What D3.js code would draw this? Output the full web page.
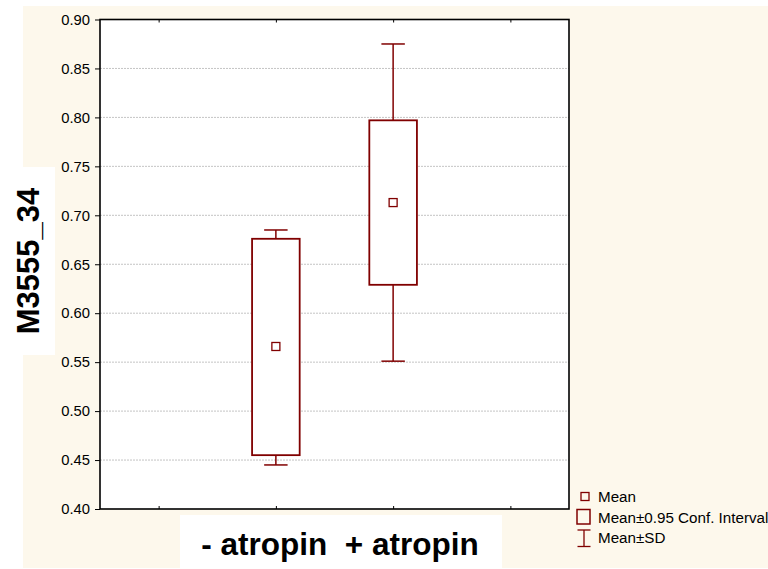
<!DOCTYPE html>
<html>
<head>
<meta charset="utf-8">
<script src="https://cdn.jsdelivr.net/npm/d3@7"></script>
<style>
  body { margin: 0; background: #ffffff; }
  svg { display: block; font-family: Arial, "Liberation Sans", sans-serif; }
</style>
</head>
<body>
<div id="chart"></div>
<script>
// values
const groups = ["- atropin", "+ atropin"];
const groupPos = [1, 2];
const means = [0.566, 0.713];
const ciLow = [0.455, 0.629];
const ciHigh = [0.676, 0.797];
const sdLow = [0.445, 0.551];
const sdHigh = [0.685, 0.875];
const yTicks = [0.40, 0.45, 0.50, 0.55, 0.60, 0.65, 0.70, 0.75, 0.80, 0.85, 0.90];
const xTicks = [0, 1, 2, 3];
const legendItems = ["Mean", "Mean\u00b10.95 Conf. Interval", "Mean\u00b1SD"];

const W = 768, H = 569;
const plot = { left: 100, right: 569, top: 19.5, bottom: 509 };
const red = "#800000";

const svg = d3.select("#chart").append("svg")
    .attr("width", W)
    .attr("height", H);

// page panels
svg.append("rect").attr("x", 23).attr("y", 6).attr("width", W - 23).attr("height", 562).attr("fill", "#fdf8ec");
svg.append("rect").attr("x", 0).attr("y", 167).attr("width", 55).attr("height", 188).attr("fill", "#ffffff");
svg.append("rect").attr("x", 180).attr("y", 515).attr("width", 322).attr("height", 53).attr("fill", "#ffffff");
svg.append("rect")
    .attr("x", plot.left).attr("y", plot.top)
    .attr("width", plot.right - plot.left).attr("height", plot.bottom - plot.top)
    .attr("fill", "#ffffff");

const x = d3.scaleLinear().domain([-0.5, 3.5]).range([plot.left, plot.right]);
const y = d3.scaleLinear().domain([0.40, 0.90]).range([plot.bottom, plot.top]);

// grid
svg.append("g")
    .selectAll("line")
    .data(yTicks.slice(1, -1))
    .enter()
    .append("line")
    .attr("x1", plot.left).attr("x2", plot.right)
    .attr("y1", d => y(d)).attr("y2", d => y(d))
    .attr("stroke", "#c4c4c4")
    .attr("stroke-width", 1)
    .attr("stroke-dasharray", "2,1");

// y axis
const yAxis = svg.append("g")
    .attr("transform", "translate(" + plot.left + ",0)")
    .call(d3.axisLeft(y).tickValues(yTicks).tickFormat(d3.format(".2f")).tickSize(5).tickPadding(5));
yAxis.select(".domain").remove();
yAxis.selectAll("text").style("font-size", "14.8px").attr("fill", "#000");

// x ticks (inside, bottom and top)
const xAxis = svg.append("g")
    .attr("transform", "translate(0," + plot.bottom + ")")
    .call(d3.axisTop(x).tickValues(xTicks).tickSize(3).tickFormat(""));
xAxis.select(".domain").remove();
const xAxisTop = svg.append("g")
    .attr("transform", "translate(0," + plot.top + ")")
    .call(d3.axisBottom(x).tickValues(xTicks).tickSize(3).tickFormat(""));
xAxisTop.select(".domain").remove();

// frame
svg.append("rect")
    .attr("x", plot.left).attr("y", plot.top)
    .attr("width", plot.right - plot.left).attr("height", plot.bottom - plot.top)
    .attr("fill", "none")
    .attr("stroke", "#000")
    .attr("stroke-width", 1.6);

// whiskers and boxes
const boxW = 0.406, capW = 0.2;
const idx = d3.range(groups.length);
const g = svg.append("g");

g.selectAll(".whisker")
    .data(idx).enter().append("line")
    .attr("x1", i => x(groupPos[i])).attr("x2", i => x(groupPos[i]))
    .attr("y1", i => y(sdHigh[i])).attr("y2", i => y(sdLow[i]))
    .attr("stroke", red).attr("stroke-width", 1.5);

g.selectAll(".capHi")
    .data(idx).enter().append("line")
    .attr("x1", i => x(groupPos[i] - capW / 2)).attr("x2", i => x(groupPos[i] + capW / 2))
    .attr("y1", i => y(sdHigh[i])).attr("y2", i => y(sdHigh[i]))
    .attr("stroke", red).attr("stroke-width", 1.5);

g.selectAll(".capLo")
    .data(idx).enter().append("line")
    .attr("x1", i => x(groupPos[i] - capW / 2)).attr("x2", i => x(groupPos[i] + capW / 2))
    .attr("y1", i => y(sdLow[i])).attr("y2", i => y(sdLow[i]))
    .attr("stroke", red).attr("stroke-width", 1.5);

g.selectAll(".box")
    .data(idx).enter().append("rect")
    .attr("x", i => x(groupPos[i] - boxW / 2))
    .attr("width", i => x(groupPos[i] + boxW / 2) - x(groupPos[i] - boxW / 2))
    .attr("y", i => y(ciHigh[i]))
    .attr("height", i => y(ciLow[i]) - y(ciHigh[i]))
    .attr("fill", "#ffffff")
    .attr("stroke", red).attr("stroke-width", 1.8);

g.selectAll(".mean")
    .data(idx).enter().append("rect")
    .attr("x", i => x(groupPos[i]) - 4)
    .attr("y", i => y(means[i]) - 4)
    .attr("width", 8).attr("height", 8)
    .attr("fill", "#ffffff")
    .attr("stroke", red).attr("stroke-width", 1.3);

// axis titles
svg.append("text")
    .attr("transform", "translate(39,261) rotate(-90)")
    .attr("text-anchor", "middle")
    .style("font-size", "31px")
    .style("font-weight", "bold")
    .text("M3555_34");

svg.append("text")
    .attr("x", 340).attr("y", 555)
    .attr("text-anchor", "middle")
    .style("font-size", "31.5px")
    .style("font-weight", "bold")
    .style("white-space", "pre")
    .text(groups.join("  "));

// legend
const lg = svg.append("g");
const lx = 598, ly = [501.5, 523, 543];
lg.append("rect").attr("x", 581).attr("y", 492.5).attr("width", 8).attr("height", 8)
    .attr("fill", "none").attr("stroke", red).attr("stroke-width", 1.3);
lg.append("rect").attr("x", 577).attr("y", 509.5).attr("width", 13).attr("height", 14.5)
    .attr("fill", "none").attr("stroke", red).attr("stroke-width", 1.5);
lg.append("line").attr("x1", 584).attr("x2", 584).attr("y1", 530).attr("y2", 546.5)
    .attr("stroke", red).attr("stroke-width", 1.3);
lg.append("line").attr("x1", 577.5).attr("x2", 590.5).attr("y1", 530).attr("y2", 530)
    .attr("stroke", red).attr("stroke-width", 1.3);
lg.append("line").attr("x1", 577.5).attr("x2", 590.5).attr("y1", 546.5).attr("y2", 546.5)
    .attr("stroke", red).attr("stroke-width", 1.3);
lg.selectAll("text")
    .data(legendItems).enter().append("text")
    .attr("x", lx).attr("y", (d, i) => ly[i])
    .style("font-size", "15.2px")
    .text(d => d);
</script>
</body>
</html>
